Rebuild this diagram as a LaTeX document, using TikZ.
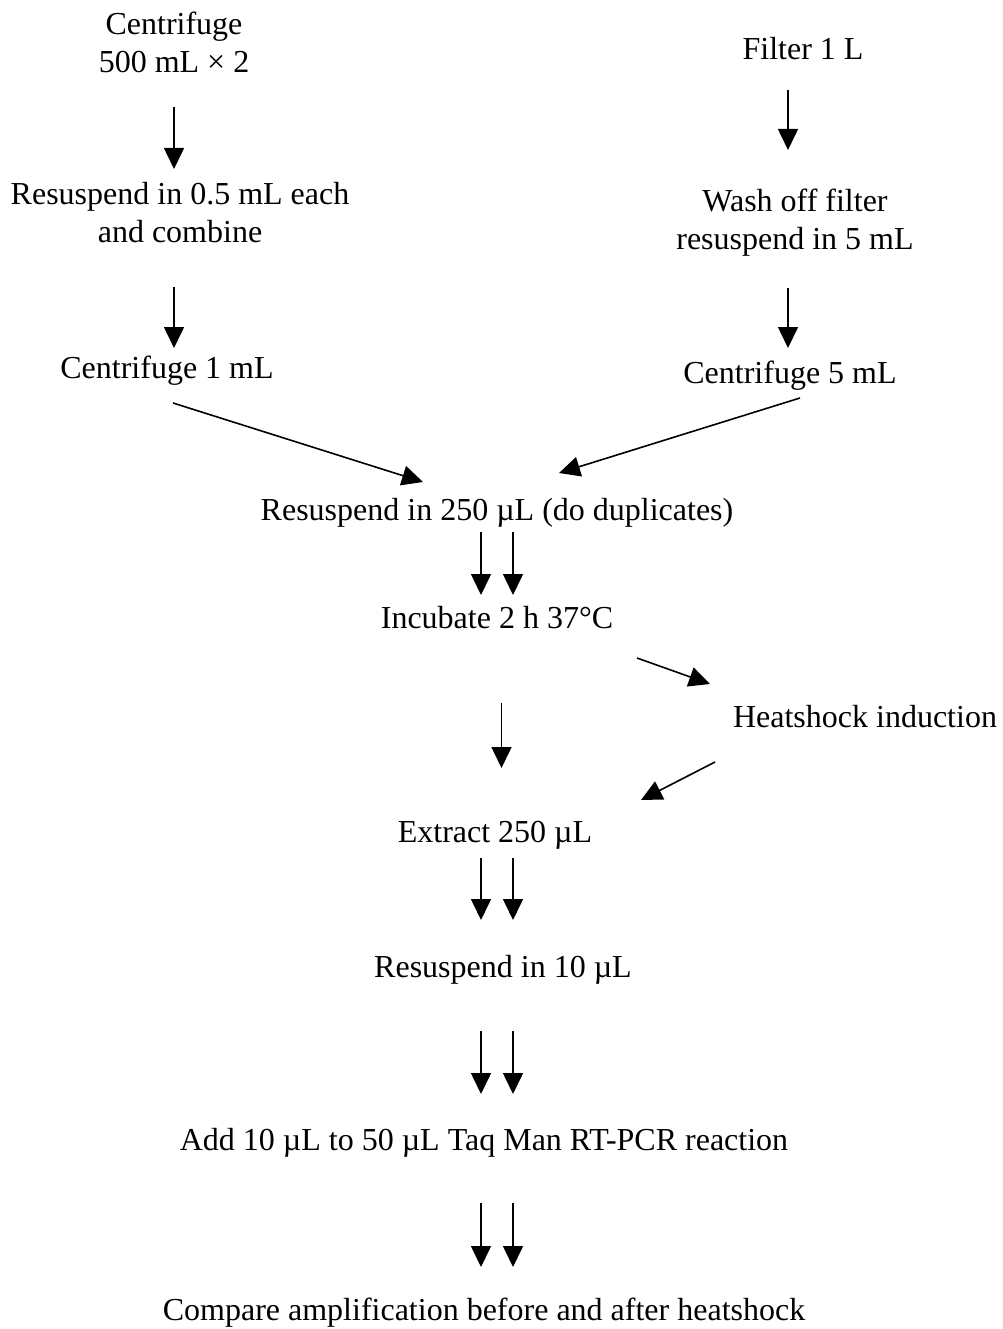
\documentclass[tikz,border=0pt]{standalone}
\usepackage{fontspec}
\setmainfont{Liberation Serif}
\usetikzlibrary{arrows.meta}

\tikzset{
  step text/.style={anchor=base, inner sep=0pt, align=center, font=\fontsize{32}{38}\selectfont},
  flow/.style={-{Triangle[length=21pt,width=20pt]}, line width=1.6pt}
}

\begin{document}
\begin{tikzpicture}[x=1pt, y=-1pt]
  \useasboundingbox (0,0) rectangle (1002,1329);

  % Left branch
  \node[step text] (top) at (174,73) {Centrifuge\\500 mL × 2};
  \node[step text] (res1) at (180,243) {Resuspend in 0.5 mL each\\and combine};
  \node[step text] (cen1) at (167,378) {Centrifuge 1 mL};

  % Right branch
  \node[step text] (fil) at (803,60) {Filter 1 L};
  \node[step text] (wash) at (795,250) {Wash off filter\\resuspend in 5 mL};
  \node[step text] (cen5) at (790,383) {Centrifuge 5 mL};

  % Common part
  \node[step text] (res250) at (497,520) {Resuspend in 250 µL (do duplicates)};
  \node[step text] (inc) at (497,628) {Incubate 2 h 37°C};
  \node[step text] (heat) at (865,727) {Heatshock induction};
  \node[step text] (ext) at (495,842) {Extract 250 µL};
  \node[step text] (res10) at (503,977) {Resuspend in 10 µL};
  \node[step text] (add) at (484,1150) {Add 10 µL to 50 µL Taq Man RT-PCR reaction};
  \node[step text] (cmp) at (484,1320) {Compare amplification before and after heatshock};

  % Arrows down the left
  \draw[flow] ([shift={(0,34)}]top.base) -- ([shift={(-6,-74)}]res1.base);
  \draw[flow] ([shift={(-6,44)}]res1.base) -- ([shift={(7,-30)}]cen1.base);

  % Arrows down the right
  \draw[flow] ([shift={(-15,30)}]fil.base) -- ([shift={(-7,-100)}]wash.base);
  \draw[flow] ([shift={(-7,38)}]wash.base) -- ([shift={(-2,-35)}]cen5.base);

  % Merging
  \draw[flow] ([shift={(6,25)}]cen1.base) -- ([shift={(-74,-38)}]res250.base);
  \draw[flow] ([shift={(10,15)}]cen5.base) -- ([shift={(62,-47)}]res250.base);

  % Duplicates
  \draw[flow] ([shift={(-16,12)}]res250.base) -- ([shift={(-16,-33)}]inc.base);
  \draw[flow] ([shift={(16,12)}]res250.base) -- ([shift={(16,-33)}]inc.base);

  % Heatshock or not
  \draw[flow] ([shift={(140,30)}]inc.base) -- ([shift={(-155,-43)}]heat.base);
  \draw[flow] ([shift={(4.5,75)}]inc.base) -- ([shift={(6.5,-74)}]ext.base);
  \draw[flow] ([shift={(-150,35)}]heat.base) -- ([shift={(146,-42)}]ext.base);

  % Down to the PCR
  \draw[flow] ([shift={(-14,16)}]ext.base) -- ([shift={(-22,-57)}]res10.base);
  \draw[flow] ([shift={(18,16)}]ext.base) -- ([shift={(10,-57)}]res10.base);
  \draw[flow] ([shift={(-22,54)}]res10.base) -- ([shift={(-3,-56)}]add.base);
  \draw[flow] ([shift={(10,54)}]res10.base) -- ([shift={(29,-56)}]add.base);
  \draw[flow] ([shift={(-3,53)}]add.base) -- ([shift={(-3,-53)}]cmp.base);
  \draw[flow] ([shift={(29,53)}]add.base) -- ([shift={(29,-53)}]cmp.base);
\end{tikzpicture}
\end{document}
